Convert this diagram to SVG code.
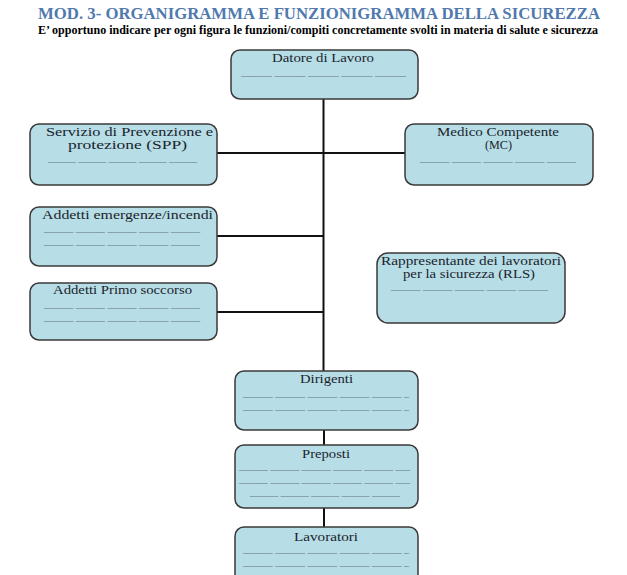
<svg xmlns="http://www.w3.org/2000/svg" width="627" height="575" viewBox="0 0 627 575">
<style>
.box{fill:#b7dde6;stroke:#3a3a3a;stroke-width:1.5}
.t{font-family:"Liberation Serif","Times New Roman",serif;font-size:11.5px;fill:#1a242c}
.u{font-family:"Liberation Serif","Times New Roman",serif;font-size:7px;fill:#2a3640}
.c{stroke:#111;stroke-width:2;fill:none}
</style>
<rect width="627" height="575" fill="#fff"/>
<text x="38" y="19" textLength="562" lengthAdjust="spacingAndGlyphs" style="font-family:'Liberation Serif',serif;font-weight:bold;font-size:17px;fill:#5079ad">MOD. 3- ORGANIGRAMMA E FUNZIONIGRAMMA DELLA SICUREZZA</text>
<text x="38" y="34" textLength="560" lengthAdjust="spacingAndGlyphs" style="font-family:'Liberation Serif',serif;font-weight:bold;font-size:11.5px;fill:#000">E’ opportuno indicare per ogni figura le funzioni/compiti concretamente svolti in materia di salute e sicurezza</text>
<g id="connectors">
<path class="c" d="M323.5 99 V372"/>
<path class="c" d="M217 153 H405"/>
<path class="c" d="M217 236 H324"/>
<path class="c" d="M217 312 H324"/>
<path class="c" d="M324 430 V446"/>
<path class="c" d="M324 508 V528"/>
</g>
<g id="datore">
<rect class="box" x="231" y="50" width="187" height="49" rx="9"/>
<text class="t" x="272" y="62" textLength="102" lengthAdjust="spacingAndGlyphs">Datore di Lavoro</text>
<text class="u" x="241" y="76" textLength="165" lengthAdjust="spacingAndGlyphs">______ ______ ______ ______ ______</text>
</g>
<g id="spp">
<rect class="box" x="30" y="124" width="187" height="61" rx="9"/>
<text class="t" x="46" y="136" textLength="167" lengthAdjust="spacingAndGlyphs">Servizio di Prevenzione e</text>
<text class="t" x="68" y="149" textLength="119" lengthAdjust="spacingAndGlyphs">protezione (SPP)</text>
<text class="u" x="48" y="162" textLength="149" lengthAdjust="spacingAndGlyphs">______ ______ ______ ______ ______</text>
</g>
<g id="mc">
<rect class="box" x="405" y="124" width="188" height="61" rx="9"/>
<text class="t" x="437" y="136" textLength="122" lengthAdjust="spacingAndGlyphs">Medico Competente</text>
<text class="t" x="485" y="149" textLength="27" lengthAdjust="spacingAndGlyphs">(MC)</text>
<text class="u" x="420" y="162" textLength="156" lengthAdjust="spacingAndGlyphs">______ ______ ______ ______ ______</text>
</g>
<g id="emergenze">
<rect class="box" x="30" y="207" width="187" height="59" rx="9"/>
<text class="t" x="42" y="219" textLength="171" lengthAdjust="spacingAndGlyphs">Addetti emergenze/incendi</text>
<text class="u" x="44" y="232" textLength="156" lengthAdjust="spacingAndGlyphs">______ ______ ______ ______ ______</text>
<text class="u" x="44" y="245" textLength="156" lengthAdjust="spacingAndGlyphs">______ ______ ______ ______ ______</text>
</g>
<g id="primo-soccorso">
<rect class="box" x="30" y="283" width="187" height="57" rx="9"/>
<text class="t" x="53" y="294" textLength="139" lengthAdjust="spacingAndGlyphs">Addetti Primo soccorso</text>
<text class="u" x="44" y="308" textLength="156" lengthAdjust="spacingAndGlyphs">______ ______ ______ ______ ______</text>
<text class="u" x="44" y="321" textLength="156" lengthAdjust="spacingAndGlyphs">______ ______ ______ ______ ______</text>
</g>
<g id="rls">
<rect class="box" x="377" y="253" width="188" height="70" rx="11"/>
<text class="t" x="381" y="265" textLength="180" lengthAdjust="spacingAndGlyphs">Rappresentante dei lavoratori</text>
<text class="t" x="403" y="278" textLength="132" lengthAdjust="spacingAndGlyphs">per la sicurezza (RLS)</text>
<text class="u" x="391" y="290" textLength="157" lengthAdjust="spacingAndGlyphs">______ ______ ______ ______ ______</text>
</g>
<g id="dirigenti">
<rect class="box" x="235" y="371" width="183" height="59" rx="9"/>
<text class="t" x="300" y="383" textLength="53" lengthAdjust="spacingAndGlyphs">Dirigenti</text>
<text class="u" x="243" y="397" textLength="166" lengthAdjust="spacingAndGlyphs">______ ______ ______ ______ ______ _</text>
<text class="u" x="243" y="410" textLength="166" lengthAdjust="spacingAndGlyphs">______ ______ ______ ______ ______ _</text>
</g>
<g id="preposti">
<rect class="box" x="235" y="445" width="183" height="63" rx="9"/>
<text class="t" x="302" y="458" textLength="48" lengthAdjust="spacingAndGlyphs">Preposti</text>
<text class="u" x="239" y="470" textLength="171" lengthAdjust="spacingAndGlyphs">______ ______ ______ ______ ______ ___</text>
<text class="u" x="239" y="483" textLength="171" lengthAdjust="spacingAndGlyphs">______ ______ ______ ______ ______ ___</text>
<text class="u" x="250" y="496" textLength="150" lengthAdjust="spacingAndGlyphs">______ ______ ______ ______ ______</text>
</g>
<g id="lavoratori">
<rect class="box" x="235" y="527" width="183" height="60" rx="9"/>
<text class="t" x="294" y="541" textLength="64" lengthAdjust="spacingAndGlyphs">Lavoratori</text>
<text class="u" x="243" y="553" textLength="166" lengthAdjust="spacingAndGlyphs">______ ______ ______ ______ ______ _</text>
<text class="u" x="243" y="566" textLength="166" lengthAdjust="spacingAndGlyphs">______ ______ ______ ______ ______ _</text>
</g>
</svg>
